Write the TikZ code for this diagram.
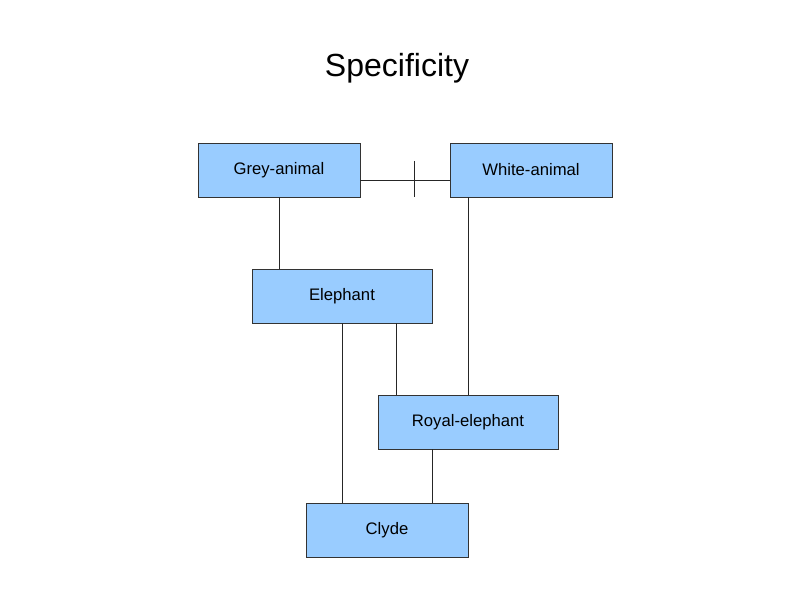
\documentclass[tikz,border=0pt]{standalone}
\usepackage{fontspec}
\setmainfont{Liberation Sans}
\begin{document}
\begin{tikzpicture}[x=0.75pt,y=-0.75pt,
  box/.style={draw=black!80,fill={rgb,255:red,153;green,204;blue,255},minimum width=121.5pt,minimum height=40.5pt,inner sep=0pt,font=\fontsize{12.5}{14}\selectfont},
  wbox/.style={box,minimum width=135pt},
  ln/.style={draw=black!85,line width=0.5pt}]
\useasboundingbox (0,0) rectangle (794,595);
\node at (397,68) {\fontsize{24}{28}\selectfont Specificity};
\node[box] (g) at (279,170) {Grey-animal};
\node[box] (w) at (531,170) {White-animal};
\node[wbox] (e) at (342,296) {Elephant};
\node[wbox] (r) at (468,422) {Royal-elephant};
\node[box] (c) at (387,530) {Clyde};
\coordinate (t1) at (414,161);
\coordinate (t2) at (414,197);
\draw[ln] (g.east |- 0,180) -- (w.west |- 0,180);
\draw[ln] (t1) -- (t2);
\draw[ln] (g.south) -- (g.south |- e.north);
\draw[ln] (w.south -| 468,0) -- (r.north);
\draw[ln] (e.south) -- (e.south |- c.north);
\draw[ln] (e.south -| 396,0) -- (r.north -| 396,0);
\draw[ln] (r.south -| 432,0) -- (c.north -| 432,0);
\end{tikzpicture}
\end{document}
